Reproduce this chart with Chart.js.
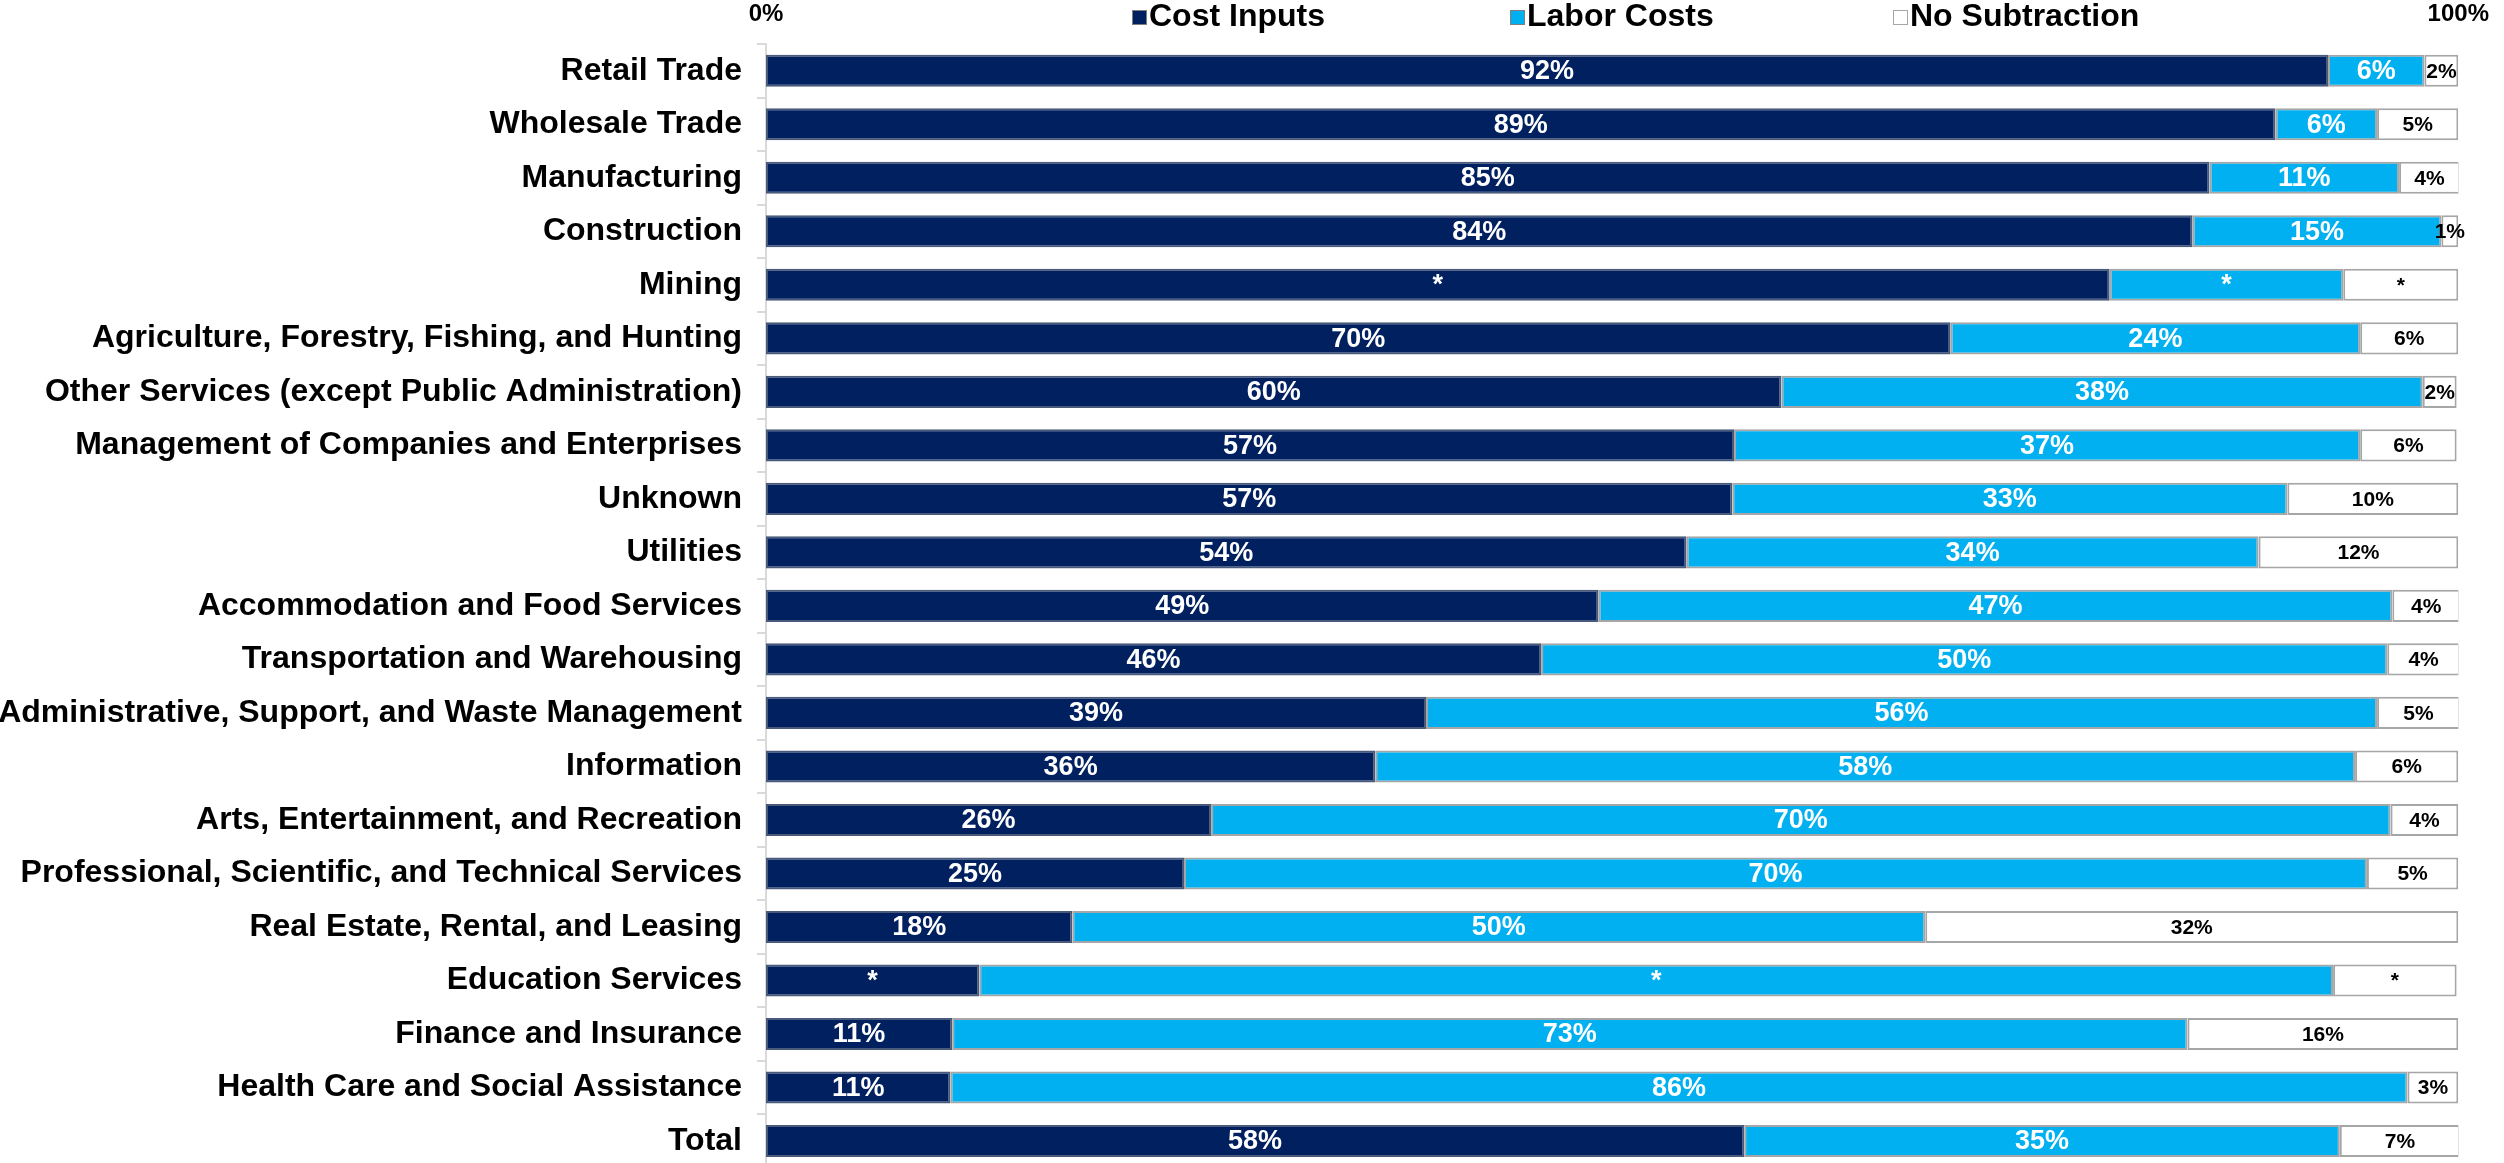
<!DOCTYPE html>
<html>
<head>
<meta charset="utf-8">
<script src="https://cdn.jsdelivr.net/npm/chart.js@4.4.1/dist/chart.umd.min.js"></script>
<style>
    html, body { margin: 0; padding: 0; background: #fff; overflow: hidden; }
    #wrap { width: 2504px; height: 1202px; }
</style>
</head>
<body>
<div id="wrap"><canvas id="myChart"></canvas></div>
<script>
// categories, top to bottom
var industries = [
    'Retail Trade', 'Wholesale Trade', 'Manufacturing', 'Construction', 'Mining',
    'Agriculture, Forestry, Fishing, and Hunting', 'Other Services (except Public Administration)',
    'Management of Companies and Enterprises', 'Unknown', 'Utilities',
    'Accommodation and Food Services', 'Transportation and Warehousing',
    'Administrative, Support, and Waste Management', 'Information',
    'Arts, Entertainment, and Recreation', 'Professional, Scientific, and Technical Services',
    'Real Estate, Rental, and Leasing', 'Education Services', 'Finance and Insurance',
    'Health Care and Social Assistance', 'Total'
];

// bar widths (percent)
var costInputs = [92.3, 89.2, 85.3, 84.3, 79.4, 70.0, 60.0, 57.2, 57.1, 54.4, 49.2, 45.8, 39.0, 36.0, 26.3, 24.7, 18.1, 12.6, 11.0, 10.9, 57.8];
var laborCosts = [5.7, 6.0, 11.2, 14.7, 13.8, 24.2, 37.9, 37.0, 32.8, 33.8, 46.9, 50.0, 56.2, 57.9, 69.7, 69.9, 50.4, 80.0, 73.0, 86.1, 35.2];
var noSubtraction = [2.0, 4.8, 3.6, 1.0, 6.8, 5.8, 2.0, 5.7, 10.1, 11.8, 4.0, 4.3, 4.9, 6.1, 4.0, 5.4, 31.5, 7.3, 16.0, 3.0, 7.1];

// printed labels (suppressed values shown as *)
var costText = ['92%', '89%', '85%', '84%', '*', '70%', '60%', '57%', '57%', '54%', '49%', '46%', '39%', '36%', '26%', '25%', '18%', '*', '11%', '11%', '58%'];
var laborText = ['6%', '6%', '11%', '15%', '*', '24%', '38%', '37%', '33%', '34%', '47%', '50%', '56%', '58%', '70%', '70%', '50%', '*', '73%', '86%', '35%'];
var noSubText = ['2%', '5%', '4%', '1%', '*', '6%', '2%', '6%', '10%', '12%', '4%', '4%', '5%', '6%', '4%', '5%', '32%', '*', '16%', '3%', '7%'];

var axisTicks = [0, 100];
var seriesNames = ['Cost Inputs', 'Labor Costs', 'No Subtraction'];
var seriesColors = ['#002060', '#00b0f0', '#ffffff'];
var textSets = [costText, laborText, noSubText];

var FONT = "'Liberation Sans', Arial, sans-serif";

// value labels inside the segments
var barLabels = {
    id: 'barLabels',
    afterDatasetsDraw: function (chart) {
        var ctx = chart.ctx;
        ctx.save();
        ctx.textAlign = 'center';
        ctx.textBaseline = 'middle';
        chart.data.datasets.forEach(function (ds, d) {
            var meta = chart.getDatasetMeta(d);
            meta.data.forEach(function (bar, i) {
                var cx = (bar.x + bar.base) / 2;
                if (d == 2) {
                    ctx.fillStyle = '#000';
                    ctx.font = 'bold 21px ' + FONT;
                } else {
                    ctx.fillStyle = '#fff';
                    ctx.font = 'bold 27px ' + FONT;
                }
                ctx.fillText(textSets[d][i], cx, bar.y + 1);
            });
        });
        ctx.restore();
    }
};

// legend across the top
var topLegend = {
    id: 'topLegend',
    afterDraw: function (chart) {
        var ctx = chart.ctx;
        var xs = [1132, 1510, 1893];
        ctx.save();
        ctx.font = 'bold 32px ' + FONT;
        ctx.textBaseline = 'middle';
        ctx.textAlign = 'left';
        for (var i = 0; i < seriesNames.length; i++) {
            ctx.fillStyle = seriesColors[i];
            ctx.fillRect(xs[i], 10, 15, 15);
            ctx.strokeStyle = i == 2 ? '#a6a6a6' : '#7f7f7f';
            ctx.lineWidth = 1;
            ctx.strokeRect(xs[i] + 0.5, 10.5, 14, 14);
            ctx.fillStyle = '#000';
            ctx.fillText(seriesNames[i], xs[i] + 17, 17);
        }
        ctx.restore();
    }
};

const data = {
    labels: industries,
    datasets: [
        { label: seriesNames[0], data: costInputs, backgroundColor: seriesColors[0], borderColor: '#4a5a7a', borderWidth: 2, borderSkipped: false },
        { label: seriesNames[1], data: laborCosts, backgroundColor: seriesColors[1], borderColor: '#a6a6a6', borderWidth: 2, borderSkipped: false },
        { label: seriesNames[2], data: noSubtraction, backgroundColor: seriesColors[2], borderColor: '#a6a6a6', borderWidth: 2, borderSkipped: false }
    ]
};

const config = {
    type: 'bar',
    data,
    options: {
        indexAxis: 'y',
        responsive: true,
        maintainAspectRatio: false,
        animation: false,
        layout: { padding: { left: 0, right: 29, top: 0, bottom: 6 } },
        plugins: {
            legend: { display: false },
            tooltip: { enabled: false }
        },
        datasets: {
            bar: { barPercentage: 0.6, categoryPercentage: 1.0 }
        },
        scales: {
            x: {
                position: 'top',
                stacked: true,
                min: 0,
                max: 100,
                grid: { display: false, drawTicks: false },
                border: { display: false },
                afterBuildTicks: function (scale) {
                    scale.ticks = axisTicks.map(function (v) { return { value: v }; });
                },
                afterFit: function (scale) { scale.height = 44; },
                ticks: {
                    padding: 15,
                    maxRotation: 0,
                    color: '#000',
                    font: { family: FONT, size: 24, weight: 'bold' },
                    callback: function (v) { return v + '%'; }
                }
            },
            y: {
                stacked: true,
                grid: { offset: true, drawOnChartArea: false, drawTicks: true, tickLength: 9, color: '#d9d9d9', lineWidth: 2 },
                border: { display: true, color: '#d9d9d9', width: 2 },
                afterFit: function (scale) { scale.width = 766; },
                ticks: {
                    padding: 15,
                    autoSkip: false,
                    color: '#000',
                    font: { family: FONT, size: 32, weight: 'bold' }
                }
            }
        }
    },
    plugins: [barLabels, topLegend]
};

const myChart = new Chart(document.getElementById('myChart'), config);
</script>
</body>
</html>
